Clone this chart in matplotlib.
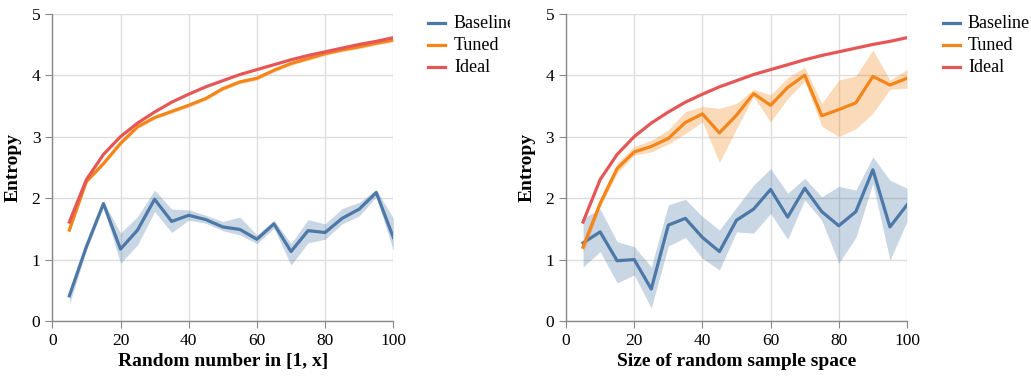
import matplotlib
matplotlib.use('Agg')
import matplotlib.pyplot as plt
from matplotlib.lines import Line2D
from matplotlib.transforms import Bbox, TransformedBbox

plt.rcParams['font.family'] = 'Liberation Serif'

x = [5, 10, 15, 20, 25, 30, 35, 40, 45, 50, 55, 60, 65, 70, 75, 80, 85, 90, 95, 100]
ideal = [1.61, 2.30, 2.71, 3.00, 3.22, 3.40, 3.56, 3.69, 3.81, 3.91,
         4.01, 4.09, 4.17, 4.25, 4.32, 4.38, 4.44, 4.50, 4.55, 4.61]

# panel 1: random number in [1, x]
base1 = [0.41, 1.21, 1.91, 1.17, 1.48, 1.98, 1.62, 1.72, 1.65, 1.53,
         1.49, 1.33, 1.58, 1.13, 1.47, 1.44, 1.67, 1.82, 2.09, 1.36]
base1_lo = [0.27, 1.15, 1.85, 0.94, 1.24, 1.78, 1.44, 1.64, 1.59, 1.47,
            1.40, 1.26, 1.51, 0.91, 1.27, 1.33, 1.58, 1.71, 2.02, 1.15]
base1_hi = [0.50, 1.28, 1.95, 1.43, 1.70, 2.13, 1.82, 1.81, 1.72, 1.62,
            1.69, 1.40, 1.64, 1.26, 1.65, 1.58, 1.83, 1.93, 2.14, 1.67]
tuned1 = [1.48, 2.27, 2.56, 2.89, 3.16, 3.31, 3.41, 3.51, 3.62, 3.78,
          3.89, 3.95, 4.08, 4.19, 4.27, 4.35, 4.41, 4.46, 4.52, 4.57]
tuned1_lo = [1.45, 2.24, 2.53, 2.86, 3.13, 3.28, 3.38, 3.48, 3.59, 3.75,
             3.86, 3.92, 4.05, 4.16, 4.24, 4.32, 4.38, 4.43, 4.49, 4.54]
tuned1_hi = [1.51, 2.30, 2.59, 2.92, 3.19, 3.34, 3.44, 3.54, 3.65, 3.81,
             3.92, 3.98, 4.11, 4.22, 4.30, 4.38, 4.44, 4.49, 4.55, 4.60]

# panel 2: size of random sample space
base2 = [1.27, 1.45, 0.98, 1.00, 0.52, 1.56, 1.67, 1.36, 1.13, 1.64,
         1.82, 2.14, 1.69, 2.16, 1.78, 1.55, 1.78, 2.46, 1.53, 1.89]
base2_lo = [0.88, 1.13, 0.62, 0.75, 0.21, 1.22, 1.36, 1.02, 0.83, 1.45,
            1.43, 1.75, 1.33, 1.97, 1.64, 0.94, 1.36, 2.24, 0.99, 1.62]
base2_hi = [1.67, 1.82, 1.29, 1.21, 0.88, 1.89, 1.98, 1.70, 1.48, 1.85,
            2.21, 2.48, 2.08, 2.32, 2.02, 2.19, 2.13, 2.67, 2.29, 2.16]
tuned2 = [1.20, 1.91, 2.48, 2.75, 2.84, 2.97, 3.23, 3.37, 3.06, 3.35,
          3.70, 3.51, 3.80, 4.00, 3.34, 3.44, 3.55, 3.98, 3.84, 3.95]
tuned2_lo = [1.10, 1.85, 2.40, 2.70, 2.75, 2.88, 3.05, 3.24, 2.58, 3.13,
             3.65, 3.24, 3.62, 3.90, 3.17, 3.00, 3.13, 3.38, 3.77, 3.79]
tuned2_hi = [1.32, 2.00, 2.57, 2.84, 2.94, 3.11, 3.41, 3.49, 3.46, 3.54,
             3.77, 3.68, 3.96, 4.13, 3.54, 3.92, 3.99, 4.41, 3.92, 4.09]

blue, orange, red = '#4c78a8', '#f58518', '#e45756'
labels = ['Baseline', 'Tuned', 'Ideal']

fig = plt.figure(figsize=(10.31, 3.77), dpi=100)
W, H = 1031, 377

panels = [
    (52.3, 'Random number in [1, x]', base1, base1_lo, base1_hi, tuned1, tuned1_lo, tuned1_hi),
    (566.0, 'Size of random sample space', base2, base2_lo, base2_hi, tuned2, tuned2_lo, tuned2_hi),
]

for left, xlabel, b, blo, bhi, t, tlo, thi in panels:
    ax = fig.add_axes([left / W, 1 - 321 / H, 341 / W, 307.3 / H])
    ax.fill_between(x, blo, bhi, color=blue, alpha=0.3, lw=0)
    ax.fill_between(x, tlo, thi, color=orange, alpha=0.3, lw=0)
    ax.plot(x, b, color=blue, lw=2.3)
    ax.plot(x, t, color=orange, lw=2.3)
    ax.plot(x, ideal, color=red, lw=2.3)
    ax.set_xlim(0, 100)
    ax.set_ylim(0, 5)
    ax.set_xticks(range(0, 101, 20))
    ax.set_yticks(range(0, 6))
    ax.grid(True, color='#dddddd', lw=1)
    ax.set_axisbelow(True)
    for s in ['top', 'right']:
        ax.spines[s].set_visible(False)
    for s in ['left', 'bottom']:
        ax.spines[s].set_color('#888888')
        ax.spines[s].set_linewidth(1)
    ax.tick_params(colors='#888888', labelcolor='black', length=5, labelsize=12.5)
    ax.set_xlabel(xlabel, fontsize=14, fontweight='bold', labelpad=3)
    ax.set_ylabel('Entropy', fontsize=14, fontweight='bold', labelpad=7)

# legends drawn on the figure
clip = TransformedBbox(Bbox.from_extents(0, 0, 510 / W, 1), fig.transFigure)
for lx, tx in [(428, 454), (943, 968)]:
    for i, (lab, c) in enumerate(zip(labels, [blue, orange, red])):
        yy = 1 - (23 + 22 * i) / H
        fig.add_artist(Line2D([lx / W, (lx + 17) / W], [yy, yy], color=c, lw=2.3,
                              transform=fig.transFigure))
        txt = fig.text(tx / W, yy, lab, fontsize=13, va='center', ha='left')
        if lx < 500:
            txt.set_clip_box(clip)
            txt.set_clip_on(True)

fig.savefig('out.png', dpi=100)
